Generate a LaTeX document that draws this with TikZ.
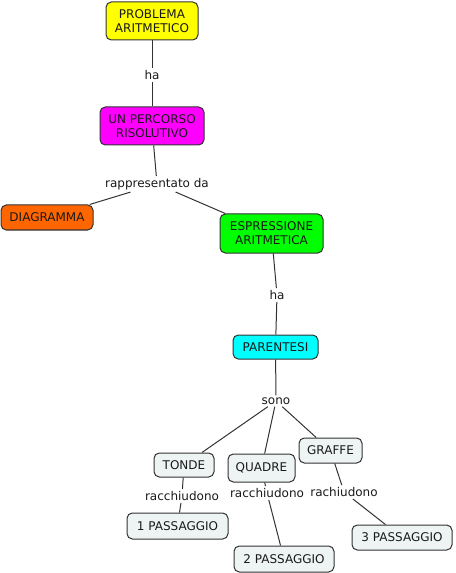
\documentclass[tikz,border=0pt]{standalone}
\usepackage{fontspec}
\setmainfont{DejaVu Sans}
\usepackage{tikz}
\usetikzlibrary{positioning}
\definecolor{edge}{HTML}{333333}
\definecolor{ink}{HTML}{1A1A1A}
\definecolor{yellowc}{HTML}{FFFF00}
\definecolor{magentac}{HTML}{FF00FF}
\definecolor{orangec}{HTML}{FF6600}
\definecolor{greenc}{HTML}{00FF00}
\definecolor{cyanc}{HTML}{00FFFF}
\definecolor{pale}{HTML}{EEF3F4}

\begin{document}
\begin{tikzpicture}[x=0.75pt,y=-0.75pt,
  concept/.style={draw=edge,line width=0.75pt,rounded corners=4pt,align=center,
    inner sep=0pt,font=\fontsize{9}{10.5}\selectfont,text=ink},
  link/.style={fill=white,inner sep=1.5pt,font=\fontsize{9}{10.5}\selectfont,text=ink},
  wire/.style={edge,line width=0.75pt}]
\useasboundingbox (0,0) rectangle (455,573);
% concepts
\node[concept,fill=yellowc,minimum width=69pt,minimum height=28.5pt] (prob) at (152,21) {PROBLEMA\\ARITMETICO};
\node[concept,fill=magentac,minimum width=78pt,minimum height=28.5pt] (perc) at (152,126) {UN PERCORSO\\RISOLUTIVO};
\node[concept,fill=orangec,minimum width=69pt,minimum height=18.75pt] (diag) at (47,217.5) {DIAGRAMMA};
\node[concept,fill=greenc,minimum width=77.25pt,minimum height=29.25pt] (espr) at (271.5,233.5) {ESPRESSIONE\\ARITMETICA};
\node[concept,fill=cyanc,minimum width=63.75pt,minimum height=18pt] (par) at (275.5,347) {PARENTESI};
\node[concept,fill=pale,minimum width=45pt,minimum height=18pt] (tonde) at (184,465) {TONDE};
\node[concept,fill=pale,minimum width=50.25pt,minimum height=21pt] (quadre) at (261.5,468) {QUADRE};
\node[concept,fill=pale,minimum width=47.25pt,minimum height=18.75pt] (graffe) at (330.5,450.5) {GRAFFE};
\node[concept,fill=pale,minimum width=75.75pt,minimum height=19.5pt] (pass1) at (177.5,526) {1 PASSAGGIO};
\node[concept,fill=pale,minimum width=75pt,minimum height=19.5pt] (pass2) at (284,559) {2 PASSAGGIO};
\node[concept,fill=pale,minimum width=75pt,minimum height=18.75pt] (pass3) at (402,537.5) {3 PASSAGGIO};
% linking phrases
\node[link] (ha1) at (152,75) {ha};
\node[link] (rapp) at (157,184) {rappresentato da};
\node[link] (ha2) at (277,295) {ha};
\node[link] (sono) at (276,401) {sono};
\node[link] (racc1) at (182,496) {racchiudono};
\node[link] (racc2) at (267,493) {racchiudono};
\node[link] (racc3) at (344,492) {rachiudono};
% connectors
\draw[wire] (prob) -- (ha1) -- (perc);
\draw[wire] (perc) -- (rapp);
\draw[wire] (rapp) -- (diag);
\draw[wire] (rapp) -- (espr);
\draw[wire] (espr) -- (ha2) -- (par);
\draw[wire] (par) -- (sono);
\foreach \t in {tonde,quadre,graffe}
  \draw[wire] (sono) -- (\t);
\draw[wire] (tonde) -- (racc1) -- (pass1);
\draw[wire] (quadre) -- (racc2) -- (pass2);
\draw[wire] (graffe) -- (racc3) -- (pass3);
\end{tikzpicture}
\end{document}
